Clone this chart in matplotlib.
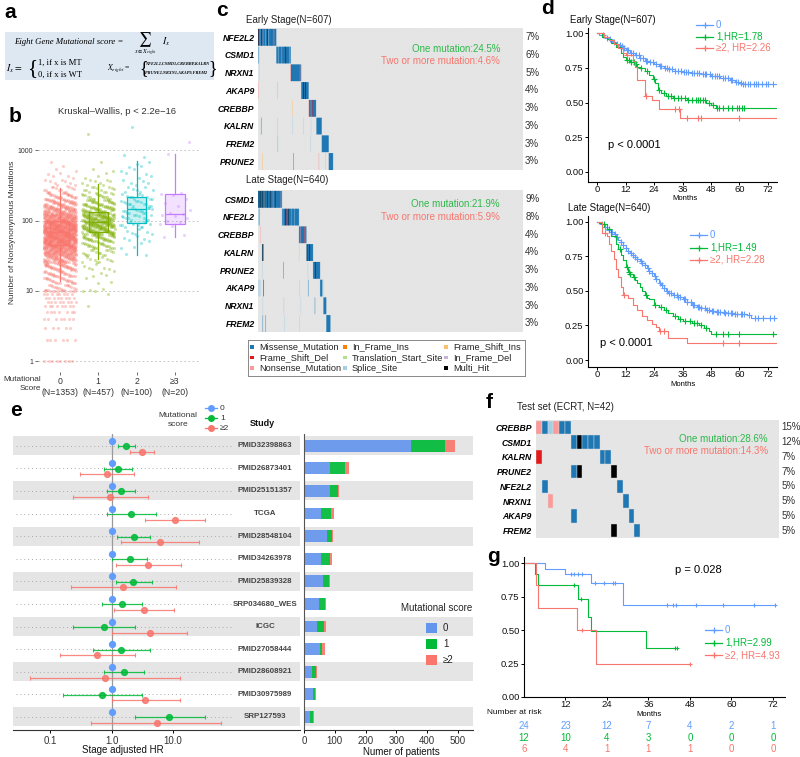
import numpy as np
import matplotlib
matplotlib.use('Agg')
import matplotlib.pyplot as plt
from matplotlib.colors import to_rgb, to_rgba
from matplotlib.lines import Line2D
from matplotlib.patches import Rectangle

plt.rcParams['font.family'] = ['Liberation Sans', 'DejaVu Sans']
plt.rcParams['mathtext.fontset'] = 'stix'
plt.rcParams['axes.linewidth'] = 0.8

# ---------------- data ----------------
# b: mutation burden by score
score_labels = ['0\n(N=1353)', '1\n(N=457)', '2\n(N=100)', '\u22653\n(N=20)']
score_colors = ['#F8766D', '#7CAE00', '#00BFC4', '#C77CFF']
low_values = [1, 2, 3, 4, 5, 6, 7, 8, 9, 10]
low_counts = [[8, 6, 5, 7, 7, 8, 8, 8, 8, 10],
              [0, 0, 0, 0, 0, 1, 0, 0, 1, 2],
              [0, 0, 0, 0, 0, 0, 0, 0, 0, 0]]
log_bins = np.arange(1.0, 3.35, 0.1)   # bin starts (log10), width 0.1
bin_counts = [[20, 25, 30, 45, 70, 110, 150, 175, 180, 165, 120, 80, 50, 30, 15, 8, 5, 3, 1, 0, 0, 0, 0, 0],
              [2, 3, 4, 6, 10, 15, 25, 40, 60, 75, 70, 50, 35, 20, 12, 8, 3, 2, 1, 0, 0, 0, 1, 0],
              [0, 0, 0, 0, 0, 2, 3, 5, 6, 10, 12, 14, 13, 10, 7, 5, 4, 4, 2, 2, 0, 0, 0, 1]]
score3_values = [58, 62, 85, 90, 95, 100, 110, 115, 120, 125, 130, 140, 160, 180, 200, 230, 240, 250, 900, 1300]
box_med = [69, 96, 145, 126]
box_q1 = [45, 68, 93, 89]
box_q3 = [100, 131, 214, 236]
box_lo = [14, 28, 32, 59]
box_hi = [295, 330, 700, 900]

# c / f: oncoprints
mut_colors = {'M': '#1F78B4', 'I': '#FF7F00', 'F': '#FDBF6F', 'D': '#E31A1C', 'T': '#B2DF8A',
              'L': '#CAB2D6', 'N': '#FB9A99', 'S': '#A6CEE3', 'X': '#000000'}
legend_codes = ['M', 'I', 'F', 'D', 'T', 'L', 'N', 'S', 'X']
legend_names = ['Missense_Mutation', 'In_Frame_Ins', 'Frame_Shift_Ins', 'Frame_Shift_Del',
                'Translation_Start_Site', 'In_Frame_Del', 'Nonsense_Mutation', 'Splice_Site', 'Multi_Hit']

early_n = 607
early_genes = ['NFE2L2', 'CSMD1', 'NRXN1', 'AKAP9', 'CREBBP', 'KALRN', 'FREM2', 'PRUNE2']
early_pct = ['7%', '6%', '5%', '4%', '3%', '3%', '3%', '3%']
early_blocks = ['MXDMSMMMXM' 'MNMMMMMLMM' 'MXMMSMMMMM' 'MDMMMMNMMM' 'MM',
                'MMMMSMMMMM' 'MMNMMMMMMM' 'MXMMMMMMMM' 'SMM',
                'DMMMMMMMMM' 'MMMMMMMMMM' 'MNMM',
                'MMMMMXMMMX' 'MMMMMMM',
                'NMDMMNMMDM' 'MMMMMMM',
                'SMMMMMMMMM' 'MMM',
                'MMMMMMMMMM' 'MMMMMM',
                'MMMMMMMMMM']
early_extra = {'CSMD1': [(1, 'M'), (2, 'S')],
               'NRXN1': [(2, 'S')],
               'AKAP9': [(1, 'N'), (44, 'L')],
               'CREBBP': [(78, 'F')],
               'KALRN': [(7, 'M'), (44, 'S'), (79, 'S'), (104, 'S'), (121, 'S')],
               'FREM2': [(44, 'S'), (45, 'S'), (120, 'S')],
               'PRUNE2': [(10, 'F'), (81, 'M'), (139, 'N'), (154, 'S')]}

late_n = 640
late_genes = ['CSMD1', 'NFE2L2', 'CREBBP', 'KALRN', 'PRUNE2', 'AKAP9', 'NRXN1', 'FREM2']
late_pct = ['9%', '8%', '4%', '4%', '3%', '3%', '3%', '3%']
late_blocks = ['MMXMMMXMMM' 'XMMMMSXMMM' 'MMXMMMMMMX' 'MMMMMMNMMM' 'MXMMMMMMMM' 'MMMMMNMM',
               'MMSMMMMMXM' 'MDMMMXMMMM' 'MMNMMMMMMM' 'SMMMMMMMMM' 'M',
               'MMMNMMMMMM' 'MMDMNMMM',
               'MXMMMMMXMM' 'MMMMMM',
               'MMMMMXMMMM' 'MMMMMMM',
               'MMMMMSSS',
               'MMMMMMM',
               'MMMMMMMMMM']
late_extra = {'NFE2L2': [(0, 'S'), (1, 'S'), (3, 'M')],
              'CREBBP': [(6, 'N')],
              'KALRN': [(10, 'X'), (11, 'M'), (12, 'X'), (99, 'T')],
              'PRUNE2': [(10, 'S'), (61, 'M'), (120, 'S')],
              'AKAP9': [(0, 'S'), (2, 'S'), (4, 'S'), (6, 'S'), (13, 'X'), (100, 'S'), (121, 'M')],
              'NRXN1': [(11, 'S'), (62, 'L'), (103, 'S'), (137, 'M')],
              'FREM2': [(11, 'M'), (18, 'M'), (64, 'S'), (100, 'S')]}

test_n = 42
test_genes = ['CREBBP', 'CSMD1', 'KALRN', 'PRUNE2', 'NFE2L2', 'NRXN1', 'AKAP9', 'FREM2']
test_pct = ['15%', '12%', '7%', '7%', '5%', '5%', '5%', '5%']
test_hits = {'CREBBP': [(0, 'N'), (1, 'M'), (2, 'S'), (3, 'N'), (4, 'M'), (5, 'M')],
             'CSMD1': [(6, 'M'), (7, 'X'), (8, 'M'), (9, 'M'), (10, 'M')],
             'KALRN': [(0, 'D'), (11, 'M'), (12, 'M')],
             'PRUNE2': [(6, 'M'), (7, 'X'), (13, 'X')],
             'NFE2L2': [(1, 'M'), (14, 'M')],
             'NRXN1': [(2, 'N'), (15, 'M')],
             'AKAP9': [(6, 'M'), (16, 'M')],
             'FREM2': [(13, 'X'), (17, 'M')]}

# d / g: Kaplan-Meier curves (event times, survival after event, last follow-up, censor times)
km_colors = ['#619CFF', '#00BA38', '#F8766D']
early_km = [
    ([1, 2, 3, 4, 5, 6, 7, 8, 9, 10, 11, 12, 14, 16, 18, 20, 22, 24, 26, 28, 30, 33, 36, 40, 44, 48, 52, 56, 58, 60, 61],
     [.99, .985, .975, .965, .955, .945, .935, .925, .915, .905, .895, .88, .86, .84, .82, .80, .79, .78, .765, .75,
      .74, .73, .72, .71, .705, .69, .675, .66, .65, .64, .635],
     75.5,
     [2.5, 4, 5.5, 7, 8.5, 9.5, 10.5, 11.5, 12.5, 13, 14.5, 15, 16.5, 17.5, 18, 19.5, 20.5, 21, 22.5, 23.5, 25, 26.5,
      27, 28.5, 29.5, 30.5, 31.5, 33, 34, 35.5, 36.5, 37.5, 38.5, 40, 41, 42, 43, 44.5, 45.5, 46, 47.5, 48.5, 49.5,
      50.5, 51.5, 53, 54, 55, 56.5, 57, 58.5, 59.5, 60.5, 61.5, 62.5, 63.5, 64.5, 66, 67, 68, 69.5, 71, 72, 74]),
    ([2, 4, 6, 8, 10, 11, 12, 14, 16, 17, 18, 20, 22, 23.5, 24.5, 25.5, 27, 29, 32, 38, 44, 46, 48, 50],
     [.975, .955, .93, .90, .86, .83, .81, .79, .78, .76, .75, .73, .70, .67, .64, .59, .57, .55, .53, .52, .515,
      .50, .48, .46],
     75.5,
     [12.5, 13.5, 14.5, 15.5, 16.5, 18.5, 21, 24, 26, 28, 30, 31, 32.5, 34, 35.5, 37, 38.5, 40, 41.5, 42.5, 43.5,
      44.5, 45.5, 47, 49, 50.5, 51.5, 53, 55, 57, 59, 60, 61, 62]),
    ([3, 5, 7, 9, 11, 12, 15, 16, 17, 20, 23, 26, 35],
     [.97, .95, .92, .89, .86, .84, .80, .76, .66, .545, .52, .455, .39],
     75.5,
     [12.5, 20.5, 33, 34.5, 38, 42.5, 44, 60]),
]
early_labels = ['0', '1,HR=1.78', '\u22652, HR=2.26']
late_km = [
    ([1, 2, 3, 4, 5, 6, 7, 8, 9, 10, 11, 12, 13, 14, 15, 16, 17, 18, 19, 20, 21, 22, 23, 24, 25, 26, 27, 28, 29, 30,
      32, 34, 36, 38, 40, 42, 44, 46, 48, 50, 54, 58, 63, 65],
     [.99, .98, .965, .95, .94, .925, .91, .89, .87, .85, .83, .81, .79, .775, .76, .745, .73, .715, .70, .685,
      .665, .645, .63, .61, .585, .56, .54, .52, .50, .485, .47, .455, .44, .42, .40, .385, .375, .365, .355, .345,
      .34, .335, .325, .305],
     75.5,
     [2, 3.5, 5, 6.5, 7.5, 8.5, 10, 11, 12, 13, 14.5, 15, 16, 17, 18.5, 19, 20, 21.5, 22, 23, 24.5, 25, 26.5, 27.5,
      28, 29.5, 30.5, 31, 32.5, 33.5, 34, 35, 36.5, 37, 38, 39.5, 40.5, 41, 42.5, 43, 44, 45.5, 46.5, 47, 48.5, 49,
      50.5, 51, 52, 53.5, 54, 55, 56.5, 57, 58, 59, 60.5, 61, 62, 64, 66.5, 68, 70, 73, 74.5]),
    ([1, 2, 4, 6, 8, 9, 10, 11, 12, 13, 14, 15, 16, 17, 18, 19, 20, 21, 22, 24, 26, 28, 30, 32, 34, 36, 40, 43, 45,
      47, 48],
     [.99, .98, .95, .90, .84, .80, .76, .72, .67, .64, .62, .60, .58, .555, .53, .50, .47, .45, .44, .40, .38, .36,
      .34, .32, .30, .28, .265, .25, .235, .21, .185],
     75.5,
     [3, 5, 9.5, 12.5, 13.5, 14, 15.5, 20.5, 24.5, 27, 29, 33, 35, 37, 39, 41, 42, 44, 46, 50, 53, 55, 60, 74]),
    ([2, 4, 5, 6, 7, 8, 9, 10, 11, 13, 15, 17, 19, 21, 23, 25, 26, 30, 38],
     [.92, .90, .84, .79, .73, .66, .60, .53, .47, .45, .40, .36, .32, .29, .26, .24, .21, .16, .12],
     75.5,
     [3.5, 11.5, 26.5, 28, 53, 60]),
]
late_labels = ['0', '1,HR=1.49', '\u22652, HR=2.28']
test_km = [
    ([6, 12, 19.5, 28.6], [.958, .917, .85, .69], 72.6,
     [13.5, 14.6, 15.6, 16.7, 20.5, 23, 25.7, 26.3, 41.3, 43.1, 43.9, 49.7, 57.5, 66.5, 72.6]),
    ([3.2, 4, 15.6, 18.6, 19.5, 35.4], [.917, .833, .729, .60, .49, .365], 44.2, [14.6, 16.5, 43.6, 44.2]),
    ([3.5, 4.1, 15.4, 20.8], [.833, .667, .50, .25], 48, [16.9, 48]),
]
test_labels = ['0', '1,HR=2.99', '\u22652, HR=4.93']
risk_times = [0, 12, 24, 36, 48, 60, 72]
risk_counts = [[24, 23, 12, 7, 4, 2, 1],
               [12, 10, 4, 3, 0, 0, 0],
               [6, 4, 1, 1, 1, 0, 0]]

# e: forest plot and cohort sizes
studies = ['PMID32398863', 'PMID26873401', 'PMID25151357', 'TCGA', 'PMID28548104', 'PMID34263978',
           'PMID25839328', 'SRP034680_WES', 'ICGC', 'PMID27058444', 'PMID28608921', 'PMID30975989', 'SRP127593']
hr1 = [1.75, 1.28, 1.42, 2.1, 2.3, 1.98, 2.27, 1.49, 0.75, 1.43, 1.58, 0.71, 8.6]
lo1 = [1.28, 0.75, 0.85, 0.86, 1.24, 1.03, 1.18, 0.71, 0.24, 0.50, 0.75, 0.16, 2.39]
hi1 = [2.39, 2.19, 2.45, 5.2, 4.3, 3.8, 4.5, 3.1, 2.39, 4.2, 3.4, 3.18, 32.6]
hr2 = [3.18, 0.84, 0.96, 10.6, 6.2, 3.98, 1.55, 3.4, 4.18, 0.59, 0.79, 3.47, 5.4]
lo2 = [2.03, 0.31, 0.24, 3.5, 1.42, 1.2, 0.22, 1.1, 1.0, 0.145, 0.048, 1.0, 0.47]
hi2 = [5.0, 2.33, 3.9, 33, 26, 13.6, 11, 10.2, 16.8, 2.42, 13.2, 13.2, 61]
n0 = [348, 85, 83, 54, 76, 56, 62, 49, 43, 53, 27, 29, 21]
n1 = [109, 47, 27, 33, 15, 27, 18, 18, 22, 7, 11, 7, 8]
n2 = [32, 14, 5, 9, 4, 7, 3, 5, 7, 8, 4, 4, 3]

# ---------------- layout helpers ----------------
W, H = 800, 757
fig = plt.figure(figsize=(8, 7.57), dpi=100)
GRAY = '#E5E5E5'
TXT = '#333333'
serif = ['Liberation Serif', 'DejaVu Serif']


def box(l, t, r, b):
    return [l / W, 1 - b / H, (r - l) / W, (b - t) / H]


def ftext(x, y, s, **kw):
    kw.setdefault('va', 'center')
    return fig.text(x / W, 1 - y / H, s, **kw)


def clean(ax):
    ax.set_xticks([])
    ax.set_yticks([])
    for s in ax.spines.values():
        s.set_visible(False)


for lab, x, y in [('a', 10, 12), ('b', 15, 117), ('c', 222, 10), ('d', 547, 9), ('e', 16, 411),
                  ('f', 489, 403), ('g', 493, 556)]:
    ftext(x, y, lab, fontsize=15, fontweight='bold', ha='center')

# ---------------- a ----------------
ax_a = fig.add_axes(box(5, 32, 214, 80))
ax_a.set_xlim(5, 214)
ax_a.set_ylim(80, 32)
ax_a.set_facecolor('#DEE8F3')
clean(ax_a)
ax_a.text(14, 42, 'Eight Gene Mutational score =', family=serif, style='italic', fontsize=6.3, va='center')
ax_a.text(145, 39.5, r'$\sum$', fontsize=10, ha='center', va='center')
ax_a.text(145, 53, r'$x\in X_{eight}$', fontsize=4.3, ha='center', va='center')
ax_a.text(162, 42, r'$I_x$', fontsize=7, va='center')
ax_a.text(6, 69, r'$I_x=$', fontsize=7, va='center')
ax_a.text(27, 68.5, '{', family=serif, fontsize=15, va='center')
ax_a.text(38, 63, '1, if x is MT', family=serif, fontsize=6.2, va='center')
ax_a.text(38, 75, '0, if x is WT', family=serif, fontsize=6.2, va='center')
ax_a.text(107, 68, r'$X_{eight}$ =', family=serif, fontsize=5.5, va='center')
ax_a.text(139, 68.5, '{', family=serif, fontsize=13, va='center')
ax_a.text(145, 64, 'NFE2L2,CSMD1,CREBBP,KALRN', family=serif, style='italic', weight='bold', fontsize=3.1, va='center')
ax_a.text(145, 73, 'PRUNE2,NRXN1,AKAP9,FREM2', family=serif, style='italic', weight='bold', fontsize=3.1, va='center')
ax_a.text(208, 68.5, '}', family=serif, fontsize=13, va='center')

# ---------------- b ----------------
ax_b = fig.add_axes(box(38, 120, 200, 372))
ax_b.set_yscale('log')
ax_b.set_ylim(0.7, 2700)
ax_b.set_xlim(-0.57, 3.65)
for s in ax_b.spines.values():
    s.set_visible(False)
for yv in [1, 10, 100, 1000]:
    ax_b.axhline(yv, color='#BBBBBB', ls=(0, (2, 3)), lw=0.6, zorder=0)


def spread(k, a, off=0.3):
    return (np.arange(k) * a + off) % 1.0


groups = []
for g in range(3):
    ys = []
    for v, c in zip(low_values, low_counts[g]):
        ys += [v] * c
    for lo, c in zip(log_bins, bin_counts[g]):
        ys += list(10 ** (lo + 0.1 * spread(c, 0.7548777)))
    groups.append(np.array(ys, dtype=float))
groups.append(np.array(score3_values, dtype=float))

for i, ys in enumerate(groups):
    xs = i + (spread(len(ys), 0.6180339, 0.17) - 0.5) * 0.85
    ax_b.scatter(xs, ys, s=5, color=score_colors[i], alpha=0.35, lw=0, zorder=2)

stats = [dict(med=m, q1=a, q3=b, whislo=lo, whishi=hi, fliers=[])
         for m, a, b, lo, hi in zip(box_med, box_q1, box_q3, box_lo, box_hi)]
bp = ax_b.bxp(stats, positions=range(4), widths=0.5, patch_artist=True, showfliers=False, showcaps=False)
for i, c in enumerate(score_colors):
    bp['boxes'][i].set(facecolor=to_rgba(c, 0.22), edgecolor=c, lw=0.9, zorder=3)
    bp['medians'][i].set(color=c, lw=0.9, zorder=4)
    for w in bp['whiskers'][2 * i:2 * i + 2]:
        w.set(color=c, lw=0.9, zorder=3)
ax_b.set_xticks(range(4))
ax_b.set_xticklabels(score_labels, fontsize=6.3, color=TXT, linespacing=1.25)
ax_b.set_yticks([1, 10, 100, 1000])
ax_b.set_yticklabels(['1', '10', '100', '1000'], fontsize=5, color=TXT)
ax_b.minorticks_off()
ax_b.tick_params(length=2, width=0.6, color='#555555', pad=1.5)
ftext(41, 376, 'Mutational\nScore', fontsize=5.9, ha='right', va='top', color=TXT, linespacing=1.35)
ftext(117, 112, 'Kruskal\u2013Wallis, p < 2.2e\u221216', fontsize=6.8, ha='center', color=TXT)
ftext(13, 232, 'Number of Nonsynonymous Mutations', fontsize=6, rotation=90, ha='center', color=TXT)

# ---------------- c ----------------


def onco_image(genes, blocks, extra, n, sub=20):
    img = np.ones((len(genes) * sub, n, 3)) * to_rgb(GRAY)
    start = 0
    for r, g in enumerate(genes):
        hits = [(start + k, c) for k, c in enumerate(blocks[r])] + extra.get(g, [])
        start += len(blocks[r])
        for idx, c in hits:
            img[r * sub + 1:(r + 1) * sub, idx] = to_rgb(mut_colors[c])
    return img


def onco_panel(rect, genes, pct, img, n, one, two, ypos):
    ax = fig.add_axes(box(*rect))
    ax.imshow(img, extent=(0, n, len(genes), 0), aspect='auto')
    ax.set_xlim(0, n)
    ax.set_ylim(len(genes), 0)
    for s in ax.spines.values():
        s.set_visible(False)
    ax.set_xticks([])
    ax.set_yticks(np.arange(len(genes)) + 0.52)
    ax.set_yticklabels(genes, fontsize=6.2, fontweight='bold', style='italic')
    ax.tick_params(length=0, pad=2.5)
    for r, p in enumerate(pct):
        ax.text(1.012, r + 0.52, p, transform=ax.get_yaxis_transform(), fontsize=7, va='center', color=TXT)
    ax.text(0.917, ypos[0], one, transform=ax.get_yaxis_transform(), ha='right', va='center',
            fontsize=7, color='#2DB84B')
    ax.text(0.917, ypos[1], two, transform=ax.get_yaxis_transform(), ha='right', va='center',
            fontsize=7, color='#F8766D')
    return ax


ftext(246, 20, 'Early Stage(N=607)', fontsize=7, color='#222222')
onco_panel((258, 28, 522, 170), early_genes, early_pct,
           onco_image(early_genes, early_blocks, early_extra, early_n), early_n,
           'One mutation:24.5%', 'Two or more mutation:4.6%', (1.18, 1.86))
ftext(246, 180, 'Late Stage(N=640)', fontsize=7, color='#222222')
onco_panel((258, 190, 522, 332), late_genes, late_pct,
           onco_image(late_genes, late_blocks, late_extra, late_n), late_n,
           'One mutation:21.9%', 'Two or more mutation:5.9%', (0.79, 1.53))

ax_leg = fig.add_axes(box(248, 340, 525, 376))
ax_leg.set_xlim(0, 277)
ax_leg.set_ylim(36, 0)
ax_leg.set_xticks([])
ax_leg.set_yticks([])
for s in ax_leg.spines.values():
    s.set_color('#888888')
    s.set_linewidth(0.7)
col_x = [4, 97, 198]
row_y = [7, 17.5, 28]
for k, (code, name) in enumerate(zip(legend_codes, legend_names)):
    cx, ry = col_x[k % 3], row_y[k // 3]
    ax_leg.add_patch(Rectangle((cx - 1.8, ry - 1.8), 3.6, 3.6, color=mut_colors[code], lw=0))
    ax_leg.text(cx + 7, ry, name, fontsize=6.6, va='center', color='#222222')

# ---------------- d ----------------


def km_draw(ax, curves, lw=0.8, ms=4):
    for (times, surv, end, cens), col in zip(curves, km_colors):
        t = np.r_[0, times, end]
        s = np.r_[1, surv, surv[-1]]
        ax.step(t, s, where='post', color=col, lw=lw)
        idx = np.searchsorted(t, cens, side='right') - 1
        ax.plot(cens, s[idx], ls='none', marker='+', color=col, ms=ms, mew=0.8)


def km_axes(rect, ylim, xlim=(-3.8, 75.8), xt=(0, 12, 24, 36, 48, 60, 72)):
    ax = fig.add_axes(box(*rect))
    ax.set_xlim(*xlim)
    ax.set_ylim(*ylim)
    for side in ['top', 'right']:
        ax.spines[side].set_visible(False)
    ax.set_xticks(xt)
    ax.set_yticks([0, 0.25, 0.5, 0.75, 1.0])
    ax.set_yticklabels(['0.00', '0.25', '0.50', '0.75', '1.00'])
    ax.tick_params(labelsize=6.8, length=2, width=0.7, pad=1.2, labelcolor='#111111')
    ax.tick_params(axis='x', pad=0.5)
    return ax


def km_legend(x, y, labels, dy=12):
    for k, (lab, col) in enumerate(zip(labels, km_colors)):
        yy = y + k * dy
        fig.add_artist(Line2D([x / W, (x + 17) / W], [1 - yy / H] * 2, color=col, lw=0.9))
        fig.add_artist(Line2D([(x + 8.5) / W], [1 - yy / H], color=col, marker='+', ms=5, mew=0.9))
        ftext(x + 20, yy, lab, fontsize=7, color=col)


ax_d1 = km_axes((588, 28, 777, 182), (-0.074, 1.038))
km_draw(ax_d1, early_km)
ftext(570, 20, 'Early Stage(N=607)', fontsize=7, color='#111111')
ftext(685, 199, 'Months', fontsize=5.5, ha='center')
ftext(608, 145, 'p < 0.0001', fontsize=8)
km_legend(696, 25, early_labels, dy=11.5)

ax_d2 = km_axes((588, 216, 777, 367), (-0.05, 1.041))
km_draw(ax_d2, late_km)
ftext(568, 208, 'Late Stage(N=640)', fontsize=7, color='#111111')
ftext(683, 385, 'Months', fontsize=5.5, ha='center')
ftext(600, 343, 'p < 0.0001', fontsize=8)
km_legend(690, 235, late_labels, dy=12.5)

# ---------------- e ----------------
rows = np.arange(len(studies))
ax_fp = fig.add_axes(box(13, 434, 300, 730))
ax_fp.set_xscale('log')
ax_fp.set_xlim(10 ** -1.602, 10 ** 3.065)
ax_fp.set_ylim(12.58, -0.52)
for i in rows:
    if i % 2 == 0:
        ax_fp.axhspan(i - 0.42, i + 0.42, color=GRAY, lw=0, zorder=0)
    ax_fp.plot([0.028, 95], [i, i], color='#AAAAAA', ls=(0, (1, 3)), lw=0.7, zorder=1)
ax_fp.axvline(1, color='#9A9A9A', lw=0.9, zorder=1)
ax_fp.plot(np.ones(len(rows)), rows - 0.22, 'o', color=km_colors[0], ms=4.2, zorder=4)
for hr, lo, hi, dy, col in [(hr1, lo1, hi1, 0.02, km_colors[1]), (hr2, lo2, hi2, 0.27, km_colors[2])]:
    hr, lo, hi = np.array(hr), np.array(lo), np.array(hi)
    ax_fp.errorbar(hr, rows + dy, xerr=[hr - lo, hi - hr], fmt='o', color=col, ms=4.2,
                   elinewidth=0.9, capsize=1.5, capthick=0.8, alpha=0.85, zorder=3)
for i, s in zip(rows, studies):
    ax_fp.text(0.878, i, s, transform=ax_fp.get_yaxis_transform(), ha='center', va='center',
               fontsize=5.7, fontweight='bold', color='#444444')
for side in ['top', 'right', 'left']:
    ax_fp.spines[side].set_visible(False)
ax_fp.spines['bottom'].set_color('#333333')
ax_fp.set_yticks([])
ax_fp.set_xticks([0.1, 1, 10])
ax_fp.set_xticklabels(['0.1', '1.0', '10.0'])
ax_fp.minorticks_off()
ax_fp.tick_params(axis='x', labelsize=7, length=2.5, width=0.7, labelcolor=TXT, pad=2)
ftext(123, 750, 'Stage adjusted HR', fontsize=7, ha='center', color='#111111')

ftext(178, 420, 'Mutational\nscore', fontsize=6, ha='center', color=TXT, linespacing=1.3)
for k, (lab, col) in enumerate(zip(['0', '1', '\u22652'], km_colors)):
    yy = [408, 418, 428][k]
    fig.add_artist(Line2D([205 / W, 217 / W], [1 - yy / H] * 2, color=col, lw=0.9))
    fig.add_artist(Line2D([211 / W], [1 - yy / H], color=col, marker='o', ms=4))
    ftext(220, yy, lab, fontsize=6, color=TXT)
ftext(262, 423, 'Study', fontsize=6.5, fontweight='bold', ha='center', color='#111111')

ax_bar = fig.add_axes(box(304, 434, 473, 730))
ax_bar.set_xlim(0, 549)
ax_bar.set_ylim(12.58, -0.52)
for i in rows:
    if i % 2 == 0:
        ax_bar.axhspan(i - 0.42, i + 0.42, color=GRAY, lw=0, zorder=0)
bar_cols = ['#6495ED', '#00BA38', '#F8766D']
left = np.zeros(len(rows))
for vals, col in zip([n0, n1, n2], bar_cols):
    ax_bar.barh(rows, vals, left=left, height=0.52, color=col, alpha=0.92, lw=0, zorder=2)
    left += np.array(vals)
for side in ['top', 'right']:
    ax_bar.spines[side].set_visible(False)
ax_bar.spines['left'].set_color('#555555')
ax_bar.spines['bottom'].set_color('#333333')
ax_bar.set_yticks([])
ax_bar.set_xticks([0, 100, 200, 300, 400, 500])
ax_bar.tick_params(axis='x', labelsize=7, length=2.5, width=0.7, labelcolor=TXT, pad=2)
ftext(401, 752, 'Numer of patients', fontsize=7, ha='center', color='#111111')
ftext(437, 608, 'Mutational score', fontsize=7, ha='center', color='#222222')
for k, (lab, col) in enumerate(zip(['0', '1', '\u22652'], bar_cols)):
    yy = [628, 644, 660][k]
    fig.add_artist(Rectangle((426 / W, 1 - (yy + 5) / H), 11 / W, 10 / H, color=col, lw=0,
                             transform=fig.transFigure))
    ftext(443, yy, lab, fontsize=7, color='#222222')

# ---------------- f ----------------
ftext(517, 407, 'Test set (ECRT, N=42)', fontsize=7, color='#222222')
ax_f = fig.add_axes(box(536, 420, 779, 538))
ax_f.set_xlim(0, test_n)
ax_f.set_ylim(len(test_genes), 0)
ax_f.set_facecolor(GRAY)
for s in ax_f.spines.values():
    s.set_visible(False)
for r, g in enumerate(test_genes):
    for idx, c in test_hits[g]:
        ax_f.add_patch(Rectangle((idx, r + 0.04), 1, 0.92, facecolor=mut_colors[c], edgecolor='#DDDDDD', lw=0.3))
ax_f.set_xticks([])
ax_f.set_yticks(np.arange(len(test_genes)) + 0.5)
ax_f.set_yticklabels(test_genes, fontsize=6.2, fontweight='bold', style='italic')
ax_f.tick_params(length=0, pad=3)
for r, p in enumerate(test_pct):
    ax_f.text(1.01, r + 0.5, p, transform=ax_f.get_yaxis_transform(), fontsize=7, va='center', color=TXT)
ax_f.text(0.955, 1.29, 'One mutation:28.6%', transform=ax_f.get_yaxis_transform(), ha='right', va='center',
          fontsize=7, color='#2DB84B')
ax_f.text(0.955, 2.1, 'Two or more mutation:14.3%', transform=ax_f.get_yaxis_transform(), ha='right',
          va='center', fontsize=7, color='#F8766D')

# ---------------- g ----------------
ax_g = km_axes((524, 557, 785, 697), (0, 1.045), xlim=(0, 75.5), xt=(12, 24, 36, 48, 60, 72))
km_draw(ax_g, test_km, lw=0.8, ms=3.5)
ftext(675, 570, 'p = 0.028', fontsize=8)
ftext(649, 715, 'Months', fontsize=5.5, ha='center')
km_legend(705, 630, test_labels, dy=12.5)
ftext(487, 713, 'Number at risk', fontsize=6, color='#111111')
for k, counts in enumerate(risk_counts):
    for t, c in zip(risk_times, counts):
        ftext(524 + 3.458 * t, [726, 738, 749][k], str(c), fontsize=7, ha='center', color=km_colors[k])

fig.savefig('out.png', dpi=100)
